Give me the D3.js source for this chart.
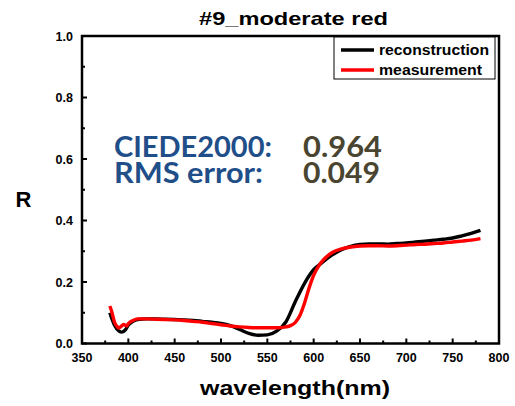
<!DOCTYPE html>
<html><head><meta charset="utf-8">
<script src="https://cdn.jsdelivr.net/npm/d3@7"></script>
<style>body{margin:0;background:#fff;} svg{display:block;}</style>
</head><body>
<script>
const wavelengths = [380,385,390,393,397,400,405,410,420,430,440,450,460,470,480,490,500,510,520,530,540,550,560,570,580,590,600,610,620,630,640,650,660,670,680,690,700,710,720,730,740,750,760,770,780];
const reconstruction = [0.100,0.060,0.040,0.037,0.045,0.060,0.072,0.078,0.080,0.080,0.079,0.078,0.077,0.075,0.072,0.069,0.065,0.058,0.046,0.033,0.027,0.028,0.040,0.070,0.135,0.195,0.240,0.265,0.288,0.305,0.316,0.322,0.324,0.324,0.323,0.325,0.327,0.330,0.333,0.336,0.339,0.343,0.350,0.358,0.368];
const measWavelengths = [380,382,385,388,390,392,395,398,400,405,410,420,430,440,450,460,470,480,490,500,510,520,530,540,550,560,570,575,580,585,590,595,600,605,610,620,630,640,650,660,670,680,690,700,710,720,730,740,750,760,770,780];
const measurement = [0.122,0.105,0.070,0.055,0.050,0.055,0.062,0.057,0.065,0.075,0.080,0.080,0.079,0.078,0.077,0.075,0.072,0.069,0.065,0.061,0.057,0.054,0.052,0.051,0.051,0.051,0.054,0.058,0.068,0.090,0.130,0.180,0.222,0.250,0.270,0.296,0.308,0.314,0.317,0.318,0.318,0.317,0.318,0.320,0.322,0.323,0.325,0.327,0.330,0.333,0.336,0.341];
const xTicks = [350,400,450,500,550,600,650,700,750,800];
const yTicks = [0.0,0.2,0.4,0.6,0.8,1.0];
const seriesNames = ["reconstruction","measurement"];
const seriesColors = ["#000000","#ff0000"];
const title = "#9_moderate red";
const xLabel = "wavelength(nm)";
const yLabel = "R";
const metricNames = ["CIEDE2000:","RMS error:"];
const metricValues = ["0.964","0.049"];

const W = 515, H = 406;
const L = 82, R = 499, T = 36, B = 343.5;
const svg = d3.select("body").append("svg").attr("width", W).attr("height", H);
const x = d3.scaleLinear().domain([350,800]).range([L,R]);
const y = d3.scaleLinear().domain([0,1]).range([B,T]);
const font = "'Liberation Sans', Arial, sans-serif";

const xMinor = d3.range(375, 800, 50);
const yMinor = d3.range(0.1, 1.0, 0.2);
const g = svg.append("g");
g.selectAll(".xmaj").data(xTicks).join("line")
  .attr("x1", d=>x(d)).attr("x2", d=>x(d)).attr("y1", B).attr("y2", B-5)
  .attr("stroke","#000").attr("stroke-width",2);
g.selectAll(".xmin").data(xMinor).join("line")
  .attr("x1", d=>x(d)).attr("x2", d=>x(d)).attr("y1", B).attr("y2", B-3)
  .attr("stroke","#000").attr("stroke-width",2);
g.selectAll(".ymaj").data(yTicks).join("line")
  .attr("y1", d=>y(d)).attr("y2", d=>y(d)).attr("x1", L).attr("x2", L+5)
  .attr("stroke","#000").attr("stroke-width",2);
g.selectAll(".ymin").data(yMinor).join("line")
  .attr("y1", d=>y(d)).attr("y2", d=>y(d)).attr("x1", L).attr("x2", L+3)
  .attr("stroke","#000").attr("stroke-width",2);

svg.selectAll(".xl").data(xTicks).join("text")
  .attr("x", d=>x(d)).attr("y", 362).attr("text-anchor","middle")
  .attr("font-family", font).attr("font-weight","bold").attr("font-size",12.5)
  .text(d=>d);
svg.selectAll(".yl").data(yTicks).join("text")
  .attr("x", 73).attr("y", d=>y(d)+4.5).attr("text-anchor","end")
  .attr("font-family", font).attr("font-weight","bold").attr("font-size",12.5)
  .text(d=>d.toFixed(1));

const line = d3.line().curve(d3.curveMonotoneX);
svg.append("path")
  .attr("d", line(wavelengths.map((w,i)=>[x(w), y(reconstruction[i])])))
  .attr("fill","none").attr("stroke",seriesColors[0]).attr("stroke-width",3.4);
svg.append("path")
  .attr("d", line(measWavelengths.map((w,i)=>[x(w), y(measurement[i])])))
  .attr("fill","none").attr("stroke",seriesColors[1]).attr("stroke-width",3.4);

svg.append("rect").attr("x",L).attr("y",T).attr("width",R-L).attr("height",B-T)
  .attr("fill","none").attr("stroke","#000").attr("stroke-width",2.5);

const lg = svg.append("g");
lg.append("rect").attr("x",334).attr("y",T+1).attr("width",161).attr("height",42)
  .attr("fill","#fff").attr("stroke","#000").attr("stroke-width",1);
const legendLens = [110, 103];
seriesNames.forEach((n,i)=>{
  const yy = 50 + i*20;
  lg.append("line").attr("x1",341).attr("x2",374).attr("y1",yy).attr("y2",yy)
    .attr("stroke",seriesColors[i]).attr("stroke-width",3.5);
  lg.append("text").attr("x",379).attr("y",yy+5).attr("font-family",font)
    .attr("font-weight","bold").attr("font-size",14)
    .attr("textLength",legendLens[i]).attr("lengthAdjust","spacingAndGlyphs").text(n);
});

svg.append("text").attr("x",199).attr("y",25)
  .attr("font-family",font).attr("font-weight","bold").attr("font-size",18.5)
  .attr("textLength",189).attr("lengthAdjust","spacingAndGlyphs").text(title);
svg.append("text").attr("x",200).attr("y",395)
  .attr("font-family",font).attr("font-weight","bold").attr("font-size",20.5)
  .attr("textLength",190).attr("lengthAdjust","spacingAndGlyphs").text(xLabel);
svg.append("text").attr("x",23.5).attr("y",207).attr("text-anchor","middle")
  .attr("font-family",font).attr("font-weight","bold").attr("font-size",22).text(yLabel);

const aFont = "Lato, 'Open Sans', sans-serif";
const nameLens = [158, 149], valLens = [79, 77];
metricNames.forEach((n,i)=>{
  const by = 156.7 + i*26.6;
  svg.append("text").attr("x",114).attr("y",by).attr("font-family",aFont)
    .attr("font-weight","bold").attr("font-size",28).attr("fill","#1f4e89")
    .attr("textLength",nameLens[i]).attr("lengthAdjust","spacingAndGlyphs").text(n);
  svg.append("text").attr("x",303).attr("y",by).attr("font-family",aFont)
    .attr("font-weight","bold").attr("font-size",28).attr("fill","#4a4530")
    .attr("textLength",valLens[i]).attr("lengthAdjust","spacingAndGlyphs").text(metricValues[i]);
});
</script>
</body></html>
